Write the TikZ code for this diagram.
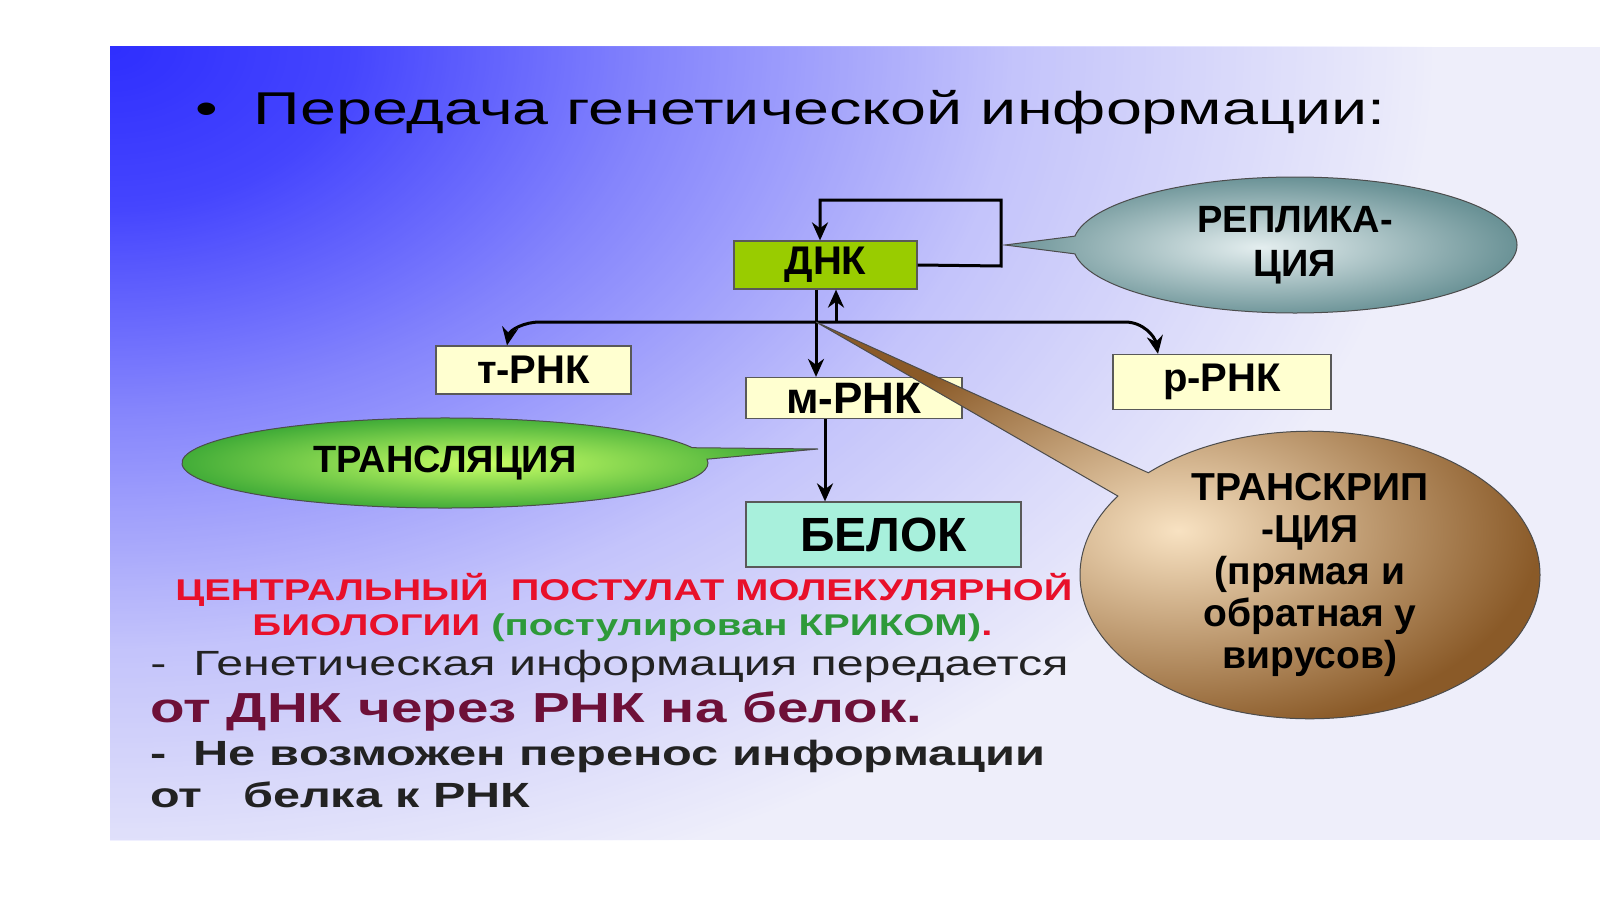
\documentclass[tikz,border=0pt]{standalone}
\usepackage{fontspec}
\setmainfont{Liberation Sans}
\usetikzlibrary{shapes.callouts,arrows.meta,fadings}
\definecolor{slideblue}{HTML}{2F2FFF}
\definecolor{lav}{HTML}{EEEEFA}
\definecolor{dnkg}{HTML}{99CC00}
\definecolor{boxy}{HTML}{FFFFD0}
\definecolor{belc}{HTML}{A8F0DC}
\definecolor{redt}{HTML}{E8102A}
\definecolor{greent}{HTML}{2E9A3A}
\definecolor{maroon}{HTML}{6E1038}
\definecolor{gtxt}{HTML}{222222}
\definecolor{repin}{HTML}{E4EEEF}
\definecolor{repout}{HTML}{6A9296}
\definecolor{trin}{HTML}{F8E2C2}
\definecolor{trout}{HTML}{8A5A28}
\pgfdeclareradialshading{fbsh}{\pgfpointorigin}{color(0bp)=(pgftransparent!0); color(4bp)=(pgftransparent!12); color(9bp)=(pgftransparent!45); color(15bp)=(pgftransparent!78); color(22bp)=(pgftransparent!100); color(50bp)=(pgftransparent!100)}
\pgfdeclarefading{fb}{\pgfuseshading{fbsh}}
\newcommand{\fw}[2]{\resizebox{#1\dimexpr0.5pt\relax}{\height}{#2}}
\tikzset{
 box/.style={draw=gray!70!black, line width=0.6pt, inner sep=0pt, font=\bfseries},
 arr/.style={line width=1.5pt, -{Stealth[length=9pt,width=8pt]}},
 call/.style={ellipse callout, draw=gray!60!black, line width=0.5pt, align=center, inner sep=0pt},
 txt/.style={anchor=base west, inner sep=0pt}
}
\begin{document}
\begin{tikzpicture}[x=0.5pt,y=-0.5pt]
\useasboundingbox (0,0) rectangle (1600,899);
\fill[white] (0,0) rectangle (1600,899);
% slide background
\fill[lav] (110,47) rectangle (1600,840);
\begin{scope}
\clip (110,47) rectangle (1600,840);
\fill[slideblue, path fading=fb, fit fading=true] (110,47) ellipse [x radius=1500, y radius=1000];
\end{scope}
% title
\node[txt] (title) at (195,125) {\fontsize{23pt}{27pt}\selectfont\fw{1190}{\textbullet\ \ Передача генетической информации:}};
% boxes
\node[box, fill=dnkg, minimum width=183*0.5pt, minimum height=48*0.5pt] (dnk) at (825.5,265) {\fontsize{20pt}{22pt}\selectfont ДНК};
\node[box, fill=boxy, minimum width=195*0.5pt, minimum height=48*0.5pt] (t) at (533.5,370) {\fontsize{20pt}{22pt}\selectfont т-РНК};
\node[box, fill=boxy, minimum width=216*0.5pt, minimum height=41*0.5pt] (m) at (854,398) {\fontsize{22pt}{22pt}\selectfont м-РНК};
\node[box, fill=boxy, minimum width=218*0.5pt, minimum height=55*0.5pt] (r) at (1222,382) {\fontsize{20pt}{22pt}\selectfont р-РНК};
\node[box, fill=belc, minimum width=275*0.5pt, minimum height=65*0.5pt] (bel) at (883.5,534.5) {\fontsize{24pt}{26pt}\selectfont БЕЛОК};
% connectors
\coordinate (j) at (816,322);
\draw[arr] (dnk.east) -- (1001,266) -- (1001,200) -- (820,200) -- (dnk.north -| 820,0);
\draw[arr] (dnk.south -| 816,0) -- (m.north -| 816,0);
\draw[arr] (836,322) -- (dnk.south -| 836,0);
\draw[arr] (j) -- (540,322) to[out=180,in=80] (t.north -| 507,0);
\draw[arr] (j) -- (1125,322) to[out=0,in=100] (r.north -| 1158,0);
\draw[arr] (m.south -| 825,0) -- (bel.north -| 825,0);
% callouts
\node[call, shade, inner color=green!35!yellow!60, outer color=green!55!black!80, minimum width=526*0.5pt, minimum height=90*0.5pt, callout absolute pointer={(818,449)}, font=\fontsize{19pt}{21pt}\selectfont\bfseries] (trl) at (445,463) {ТРАНСЛЯЦИЯ};
\node[call, shade, inner color=repin, outer color=repout, minimum width=444*0.5pt, minimum height=136*0.5pt, callout absolute pointer={(1005,245)}, font=\fontsize{19pt}{22pt}\selectfont\bfseries] (rep) at (1295,245) {РЕПЛИКА-\\ЦИЯ};
\node[call, shade, inner color=trin, outer color=trout, minimum width=460*0.5pt, minimum height=270*0.5pt, callout absolute pointer={(j)}, callout pointer arc=12, font=\fontsize{19.5pt}{21pt}\selectfont\bfseries] (trs) at (1310,575) {ТРАНСКРИП\\-ЦИЯ\\(прямая и\\обратная у\\вирусов)};
% bottom text
\node[txt] (l1) at (175,600) {\fontsize{15pt}{17pt}\selectfont\bfseries\color{redt}\fw{897}{ЦЕНТРАЛЬНЫЙ\ \ ПОСТУЛАТ МОЛЕКУЛЯРНОЙ}};
\node[txt] (l2) at (252,635) {\fontsize{15pt}{17pt}\selectfont\bfseries\fw{740}{\color{redt}БИОЛОГИИ \color{greent}(постулирован КРИКОМ)\color{redt}.}};
\node[txt] (l3) at (150,675) {\fontsize{17.5pt}{19pt}\selectfont\color{gtxt}\fw{918}{-\ \ Генетическая информация передается}};
\node[txt] (l4) at (150,722) {\fontsize{21pt}{23pt}\selectfont\bfseries\color{maroon}\fw{772}{от ДНК через РНК на белок.}};
\node[txt] (l5) at (150,765) {\fontsize{17.5pt}{19pt}\selectfont\bfseries\color{gtxt}\fw{895}{-\ \ Не возможен перенос информации}};
\node[txt] (l6) at (150,807) {\fontsize{17.5pt}{19pt}\selectfont\bfseries\color{gtxt}\fw{380}{от\ \ \ белка к РНК}};
\end{tikzpicture}
\end{document}
